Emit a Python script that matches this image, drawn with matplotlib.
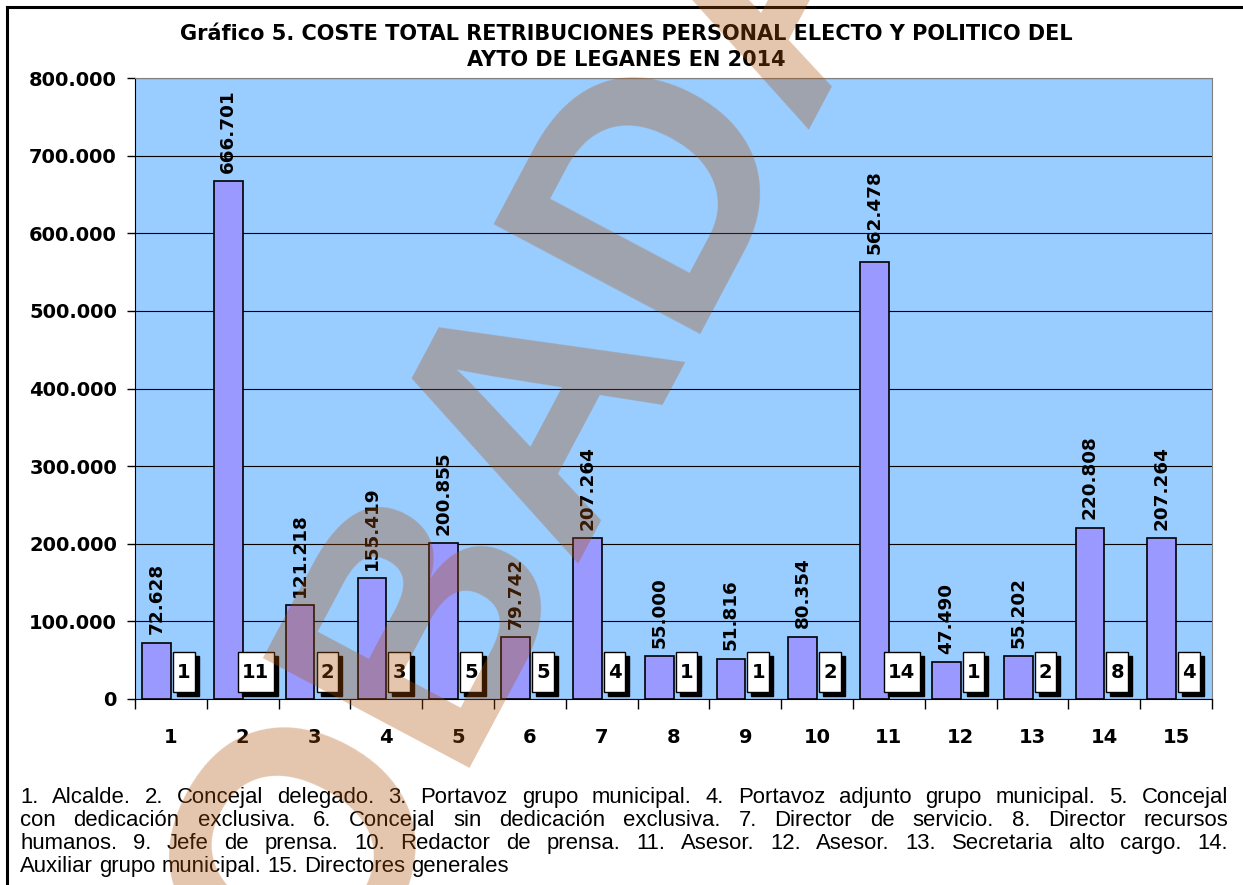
import matplotlib
matplotlib.use("Agg")
import matplotlib.pyplot as plt
from matplotlib.patches import Rectangle
from matplotlib.lines import Line2D
from matplotlib.ticker import FuncFormatter, MultipleLocator, FixedLocator

# datos del grafico
categorias = [str(i) for i in range(1, 16)]
coste = [72628, 666701, 121218, 155419, 200855, 79742, 207264, 55000,
         51816, 80354, 562478, 47490, 55202, 220808, 207264]
personas = [1, 11, 2, 3, 5, 5, 4, 1, 1, 2, 14, 1, 2, 8, 4]

titulo = ("Gráfico 5. COSTE TOTAL RETRIBUCIONES PERSONAL ELECTO Y POLITICO DEL\n"
          "AYTO DE LEGANES EN 2014")
nota = ["1. Alcalde. 2. Concejal delegado. 3. Portavoz grupo municipal. 4. Portavoz adjunto grupo municipal. 5. Concejal",
        "con dedicación exclusiva. 6. Concejal sin dedicación exclusiva. 7. Director de servicio. 8. Director recursos",
        "humanos. 9. Jefe de prensa. 10. Redactor de prensa. 11. Asesor. 12. Asesor. 13. Secretaria alto cargo. 14.",
        "Auxiliar grupo municipal. 15. Directores generales"]
marca_agua = "APROBADA"


def miles(v, pos=None):
    return f"{int(v):,}".replace(",", ".")


W, H = 1243, 885
fig = plt.figure(figsize=(W / 100, H / 100), dpi=100)
ax = fig.add_axes([135 / W, 1 - 699 / H, (1212 - 135) / W, (699 - 78) / H])
ax.set_facecolor("#99CCFF")

pos = list(range(len(coste)))
ax.bar([p - 0.2 for p in pos], coste, width=0.4, color="#9999FF",
       edgecolor="black", linewidth=1.2, zorder=3)

for p, v in zip(pos, coste):
    ax.annotate(miles(v), (p - 0.2, v), xytext=(0, 6), textcoords="offset points",
                rotation=90, ha="center", va="bottom", fontsize=13.2,
                fontweight="bold", zorder=6)

# cajas con el numero de personas
px = 800000 / 621
for p, n in zip(pos, personas):
    w = 0.3 if n < 10 else 0.5
    cx = p + 0.18
    ax.add_patch(Rectangle((cx - w / 2 + 0.056, 9000 - 4 * px), w, 51500,
                           facecolor="black", edgecolor="black", zorder=4))
    ax.add_patch(Rectangle((cx - w / 2, 9000), w, 51500, facecolor="white",
                           edgecolor="black", linewidth=1, zorder=5))
    ax.text(cx, 34750, str(n), ha="center", va="center", fontsize=14,
            fontweight="bold", zorder=6)

ax.set_xlim(-0.5, len(coste) - 0.5)
ax.set_ylim(0, 800000)
ax.yaxis.set_major_locator(MultipleLocator(100000))
ax.yaxis.set_major_formatter(FuncFormatter(miles))
ax.set_xticks(pos)
ax.set_xticklabels(categorias)
ax.xaxis.set_minor_locator(FixedLocator([p - 0.5 for p in pos] + [len(pos) - 0.5]))
ax.tick_params(axis="x", which="major", length=0, pad=21, labelsize=14)
ax.tick_params(axis="x", which="minor", length=7, width=1, direction="out")
ax.tick_params(axis="y", length=6, width=1, pad=7, labelsize=14)
for lab in ax.get_xticklabels() + ax.get_yticklabels():
    lab.set_fontweight("bold")

ax.grid(axis="y", color="black", linewidth=0.8)
ax.set_axisbelow(True)
for s in ["top", "right"]:
    ax.spines[s].set_color("#808080")
for s in ["left", "bottom"]:
    ax.spines[s].set_color("black")

fig.text(626 / W, 1 - 47 / H, titulo, ha="center", va="center", fontsize=15,
         fontweight="bold", linespacing=1.4)

# marco del documento
fig.add_artist(Line2D([6.5 / W, 1], [1 - 6.5 / H] * 2, color="black", lw=2.2))
fig.add_artist(Line2D([6.5 / W] * 2, [0, 1 - 6.5 / H], color="black", lw=2.2))

# nota al pie, justificada
rend = fig.canvas.get_renderer()
fs_nota = 15.9
t1 = fig.text(0, 0, "a a", fontsize=fs_nota, family="Liberation Sans")
t2 = fig.text(0, 0, "aa", fontsize=fs_nota, family="Liberation Sans")
espacio = t1.get_window_extent(rend).width - t2.get_window_extent(rend).width
t1.remove()
t2.remove()

izq, der = 20, 1228
for k, linea in enumerate(nota):
    y = 1 - (803 + 23 * k) / H
    palabras = linea.split(" ")
    textos = [fig.text(0, y, pal, fontsize=fs_nota, family="Liberation Sans",
                       va="baseline") for pal in palabras]
    anchos = [t.get_window_extent(rend).width for t in textos]
    if k < len(nota) - 1:
        hueco = (der - izq - sum(anchos)) / (len(palabras) - 1)
    else:
        hueco = espacio
    xx = izq
    for t, a in zip(textos, anchos):
        t.set_x(xx / W)
        xx += a + hueco

# marca de agua semitransparente
fig.text(455 / W, 1 - 780 / H, marca_agua, rotation=62, rotation_mode="anchor",
         ha="center", va="baseline", fontsize=245, fontweight="bold",
         family="Liberation Sans", color=(174 / 255, 78 / 255, 6 / 255),
         alpha=0.33, zorder=10)

fig.savefig("out.png", dpi=100)
